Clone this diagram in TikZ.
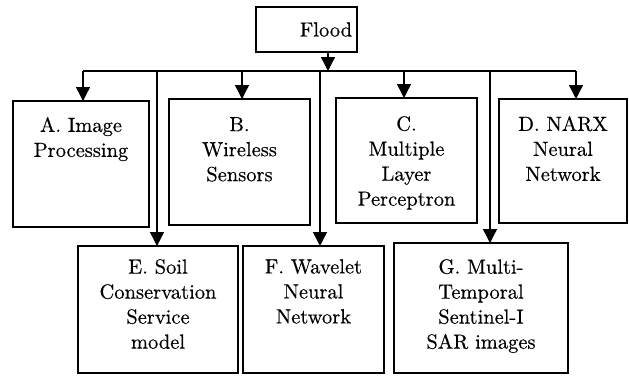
\documentclass[tikz,border=0pt]{standalone}
\usepackage{fontspec}
\IfFontExistsTF{lmroman10-regular.otf}
  {\newfontfamily\reffont{lmroman10-regular.otf}[FakeBold=0.4]}
  {\newfontfamily\reffont{Latin Modern Roman}}
\usetikzlibrary{arrows.meta}
\begin{document}
\begin{tikzpicture}[x=1pt,y=-1pt,
  box/.style={draw=black, line width=1.4pt, rectangle, inner sep=0pt, outer sep=0pt},
  lbl/.style={anchor=north, inner sep=0pt, align=center, font=\reffont\fontsize{20.5}{25}\selectfont},
  conn/.style={line width=1.4pt, draw=black},
  arr/.style={conn, -{Triangle[length=14pt,width=14pt]}}]
\useasboundingbox (0,0) rectangle (629,375);
% boxes
\node[box, minimum width=101pt, minimum height=45pt] (flood) at (306.5,29.5) {};
\node[box, minimum width=136pt, minimum height=126pt] (A) at (81,164) {};
\node[box, minimum width=141pt, minimum height=126pt] (B) at (239.5,162) {};
\node[box, minimum width=141pt, minimum height=125pt] (C) at (406.5,160.5) {};
\node[box, minimum width=128pt, minimum height=124pt] (D) at (563,161) {};
\node[box, minimum width=160pt, minimum height=127pt] (E) at (158,309.5) {};
\node[box, minimum width=141pt, minimum height=127pt] (F) at (313.5,309.5) {};
\node[box, minimum width=174pt, minimum height=130pt] (G) at (481,308) {};
% labels
\node[font=\reffont\fontsize{20.5}{25}\selectfont, inner sep=0pt] (tflood) at (326,29.5) {Flood};
\node[lbl] (tA) at (81,117) {A. Image\\Processing};
\node[lbl] (tB) at (239.5,117) {B.\\Wireless\\Sensors};
\node[lbl] (tC) at (406.5,116) {C.\\Multiple\\Layer\\Perceptron};
\node[lbl] (tD) at (563,116) {D. NARX\\Neural\\Network};
\node[lbl] (tE) at (158,259) {E. Soil\\Conservation\\Service\\model};
\node[lbl] (tF) at (313.5,259) {F. Wavelet\\Neural\\Network};
\node[lbl] (tG) at (481,259) {G. Multi-\\Temporal\\Sentinel-I\\SAR images};
% junction points on the bus line
\coordinate (hub) at (328,71);
\coordinate (ja) at (83,71);
\coordinate (jb) at (242,71);
\coordinate (jc) at (404,71);
\coordinate (jd) at (576,71);
\coordinate (je) at (157,71);
\coordinate (jf) at (320,71);
\coordinate (jg) at (490,71);
% connectors
\draw[arr] (flood.south -| hub) -- (hub);
\draw[conn] (ja) -- (jd);
\draw[arr] (ja) -- (ja |- A.north);
\draw[arr] (jb) -- (jb |- B.north);
\draw[arr] (jc) -- (jc |- C.north);
\draw[arr] (jd) -- (jd |- D.north);
\draw[arr] (je) -- (je |- E.north);
\draw[arr] (jf) -- (jf |- F.north);
\draw[arr] (jg) -- (jg |- G.north);
\end{tikzpicture}
\end{document}
